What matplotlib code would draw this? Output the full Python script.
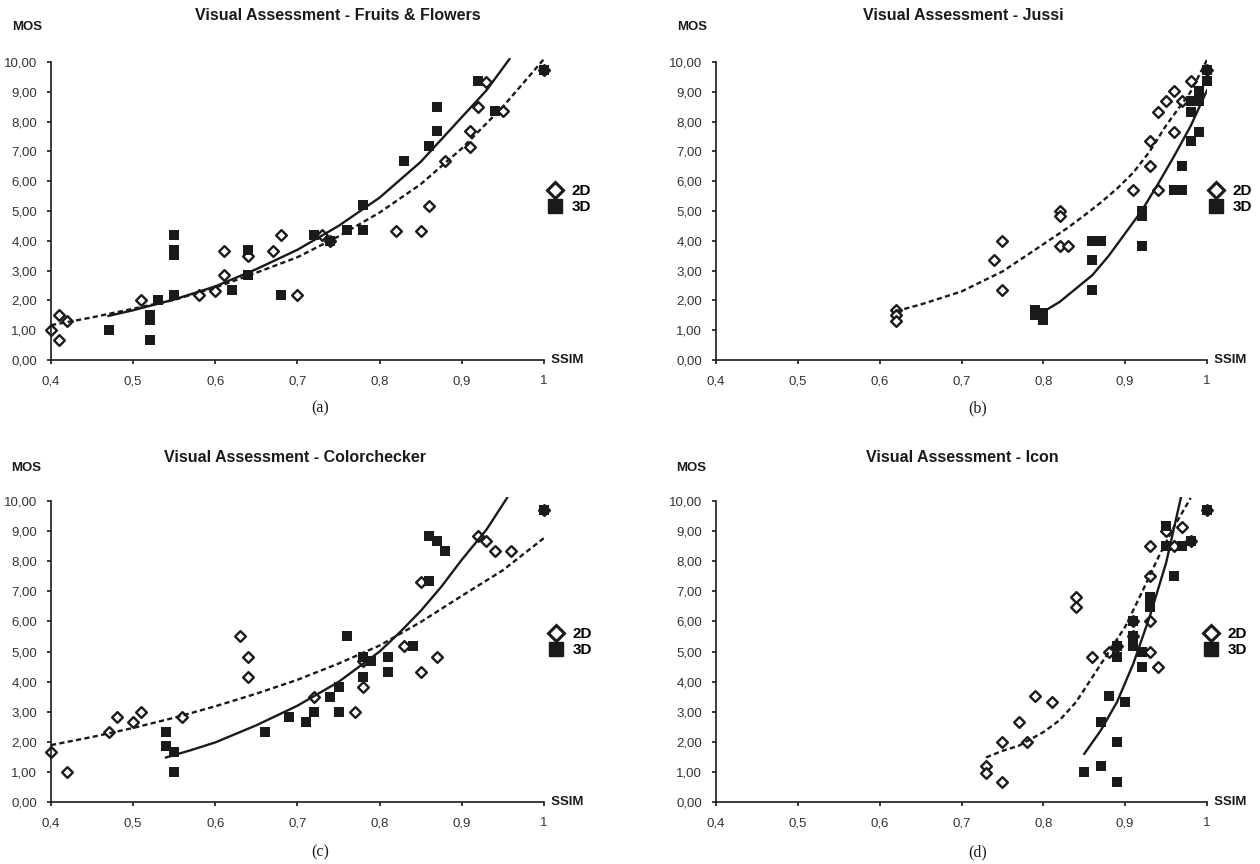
import numpy as np
import matplotlib
matplotlib.use('Agg')
from matplotlib import pyplot as plt
from matplotlib.lines import Line2D
from matplotlib.ticker import FuncFormatter

plt.rcParams['font.family'] = ['Liberation Sans', 'DejaVu Sans']

titles = ['Visual Assessment - Fruits & Flowers', 'Visual Assessment - Jussi',
          'Visual Assessment - Colorchecker', 'Visual Assessment - Icon']
sublabels = ['(a)', '(b)', '(c)', '(d)']
series_names = ['2D', '3D']
x_ticks = [0.4, 0.5, 0.6, 0.7, 0.8, 0.9, 1.0]
y_ticks = [0, 1, 2, 3, 4, 5, 6, 7, 8, 9, 10]

# (a) Fruits & Flowers
a_2d_x = [0.40, 0.41, 0.41, 0.42, 0.51, 0.58, 0.60, 0.61, 0.61, 0.64, 0.67, 0.68, 0.70,
          0.73, 0.74, 0.82, 0.85, 0.86, 0.88, 0.91, 0.91, 0.92, 0.93, 0.95, 1.00]
a_2d_y = [1.00, 1.52, 0.67, 1.32, 2.00, 2.18, 2.32, 3.66, 2.84, 3.50, 3.66, 4.18, 2.18,
          4.18, 4.00, 4.33, 4.33, 5.17, 6.67, 7.16, 7.67, 8.49, 9.33, 8.36, 9.72]
a_3d_x = [0.47, 0.52, 0.52, 0.52, 0.53, 0.55, 0.55, 0.55, 0.55, 0.62, 0.64, 0.64, 0.68,
          0.72, 0.74, 0.76, 0.78, 0.78, 0.83, 0.86, 0.87, 0.87, 0.92, 0.94, 1.00]
a_3d_y = [1.00, 1.52, 1.34, 0.67, 2.03, 4.19, 3.68, 3.52, 2.18, 2.34, 3.68, 2.86, 2.18,
          4.19, 4.00, 4.35, 5.19, 4.35, 6.69, 7.19, 8.49, 7.69, 9.36, 8.36, 9.72]
# trendlines
a_2d_tx = [0.40, 0.45, 0.50, 0.55, 0.60, 0.65, 0.70, 0.75, 0.80, 0.85, 0.90, 0.95, 1.00]
a_2d_ty = [1.17, 1.43, 1.72, 2.02, 2.43, 2.93, 3.45, 4.15, 4.95, 5.90, 7.10, 8.50, 10.10]
a_3d_tx = [0.47, 0.50, 0.55, 0.60, 0.65, 0.70, 0.75, 0.80, 0.85, 0.90, 0.93, 0.958]
a_3d_ty = [1.48, 1.67, 2.03, 2.47, 3.05, 3.70, 4.50, 5.45, 6.65, 8.15, 9.05, 10.10]

# (b) Jussi
b_2d_x = [0.62, 0.62, 0.62, 0.74, 0.75, 0.75, 0.82, 0.82, 0.82, 0.83, 0.91, 0.93, 0.93,
          0.94, 0.94, 0.95, 0.96, 0.96, 0.97, 0.98, 1.00]
b_2d_y = [1.67, 1.50, 1.30, 3.35, 4.00, 2.36, 5.00, 4.83, 3.84, 3.84, 5.69, 7.34, 6.50,
          8.33, 5.69, 8.70, 9.02, 7.66, 8.70, 9.35, 9.73]
b_3d_x = [0.79, 0.79, 0.80, 0.80, 0.86, 0.87, 0.86, 0.86, 0.92, 0.92, 0.92, 0.96, 0.97,
          0.97, 0.98, 0.98, 0.98, 0.99, 0.99, 0.99, 1.00, 1.00]
b_3d_y = [1.67, 1.50, 1.58, 1.34, 4.00, 4.00, 3.35, 2.36, 5.00, 4.83, 3.84, 5.69, 5.69,
          6.50, 7.34, 8.33, 8.70, 8.70, 9.02, 7.66, 9.35, 9.73]
b_2d_tx = [0.62, 0.65, 0.70, 0.75, 0.79, 0.83, 0.85, 0.87, 0.89, 0.91, 0.93, 0.95, 0.98, 1.00]
b_2d_ty = [1.64, 1.86, 2.30, 2.97, 3.70, 4.44, 4.85, 5.28, 5.75, 6.29, 7.00, 7.87, 9.00, 10.07]
b_3d_tx = [0.80, 0.82, 0.84, 0.86, 0.88, 0.90, 0.92, 0.94, 0.96, 0.98, 1.00]
b_3d_ty = [1.62, 1.95, 2.40, 2.85, 3.50, 4.25, 5.00, 5.90, 6.85, 7.85, 9.05]

# (c) Colorchecker
c_2d_x = [0.40, 0.42, 0.47, 0.48, 0.50, 0.51, 0.56, 0.63, 0.64, 0.64, 0.72, 0.77, 0.78,
          0.78, 0.83, 0.85, 0.85, 0.87, 0.92, 0.93, 0.94, 0.96, 1.00]
c_2d_y = [1.65, 0.99, 2.32, 2.84, 2.67, 3.00, 2.84, 5.51, 4.82, 4.15, 3.49, 3.00, 3.81,
          4.67, 5.18, 7.32, 4.32, 4.82, 8.84, 8.67, 8.33, 8.33, 9.70]
c_3d_x = [0.54, 0.54, 0.55, 0.55, 0.66, 0.69, 0.71, 0.72, 0.74, 0.75, 0.75, 0.76, 0.78,
          0.78, 0.79, 0.81, 0.81, 0.84, 0.86, 0.86, 0.87, 0.88, 1.00]
c_3d_y = [2.32, 1.86, 1.67, 0.99, 2.32, 2.84, 2.67, 3.00, 3.49, 3.81, 3.00, 5.51, 4.82,
          4.15, 4.68, 4.82, 4.32, 5.18, 8.84, 7.33, 8.67, 8.33, 9.70]
c_2d_tx = [0.40, 0.45, 0.50, 0.55, 0.60, 0.65, 0.70, 0.75, 0.80, 0.85, 0.90, 0.95, 1.00]
c_2d_ty = [1.89, 2.16, 2.46, 2.80, 3.18, 3.60, 4.06, 4.60, 5.20, 5.98, 6.85, 7.70, 8.77]
c_3d_tx = [0.54, 0.57, 0.60, 0.65, 0.70, 0.75, 0.80, 0.825, 0.85, 0.875, 0.90, 0.93, 0.955]
c_3d_ty = [1.48, 1.72, 1.98, 2.55, 3.20, 3.99, 5.00, 5.65, 6.35, 7.15, 8.05, 9.05, 10.10]

# (d) Icon
d_2d_x = [0.73, 0.73, 0.75, 0.75, 0.77, 0.78, 0.79, 0.81, 0.84, 0.84, 0.86, 0.88, 0.89,
          0.91, 0.91, 0.93, 0.93, 0.93, 0.93, 0.94, 0.95, 0.96, 0.97, 0.98, 1.00]
d_2d_y = [1.18, 0.98, 2.00, 0.67, 2.67, 2.00, 3.52, 3.32, 6.82, 6.47, 4.82, 4.99, 5.18,
          6.01, 5.50, 8.49, 7.50, 6.00, 4.99, 4.48, 9.00, 8.50, 9.15, 8.67, 9.69]
d_3d_x = [0.85, 0.87, 0.87, 0.88, 0.89, 0.89, 0.89, 0.89, 0.90, 0.91, 0.91, 0.91, 0.92,
          0.92, 0.93, 0.93, 0.95, 0.95, 0.96, 0.97, 0.98, 1.00]
d_3d_y = [0.99, 1.18, 2.67, 3.52, 2.00, 0.67, 5.18, 4.82, 3.32, 6.01, 5.50, 5.18, 4.99,
          4.50, 6.82, 6.47, 9.18, 8.50, 7.50, 8.50, 8.67, 9.69]
d_2d_tx = [0.73, 0.75, 0.77, 0.80, 0.82, 0.84, 0.86, 0.88, 0.90, 0.92, 0.94, 0.96, 0.98]
d_2d_ty = [1.48, 1.70, 1.87, 2.32, 2.72, 3.32, 4.15, 4.99, 5.82, 6.94, 8.10, 9.16, 10.10]
d_3d_tx = [0.85, 0.87, 0.89, 0.91, 0.93, 0.95, 0.968]
d_3d_ty = [1.60, 2.37, 3.32, 4.60, 6.16, 7.94, 10.10]

panels = [(a_2d_x, a_2d_y, a_3d_x, a_3d_y),
          (b_2d_x, b_2d_y, b_3d_x, b_3d_y),
          (c_2d_x, c_2d_y, c_3d_x, c_3d_y),
          (d_2d_x, d_2d_y, d_3d_x, d_3d_y)]
trends = [(a_2d_tx, a_2d_ty, a_3d_tx, a_3d_ty),
          (b_2d_tx, b_2d_ty, b_3d_tx, b_3d_ty),
          (c_2d_tx, c_2d_ty, c_3d_tx, c_3d_ty),
          (d_2d_tx, d_2d_ty, d_3d_tx, d_3d_ty)]

W, H = 1260, 864
INK = '#1a1a1a'
# pixel layout: x at 0.4, x at 1.0, y at 0, y at 10
boxes = [(51, 544, 360, 62), (716, 1207, 360, 62),
         (51, 544, 802, 501), (716, 1207, 802, 501)]
title_pos = [(338, 16), (963, 16), (295, 457), (962, 457)]
sub_pos = [(320, 408), (978, 408), (320, 852), (978, 852)]
mos_pos = [(12, 27), (677, 27), (11, 468), (676, 468)]
leg_pos = [(547, 184), (1208, 184), (548, 627), (1203, 627)]
YTOP = 10.12

fig = plt.figure(figsize=(W / 100, H / 100), dpi=100)
for i, (x2, y2, x3, y3) in enumerate(panels):
    x0, x1, y0, y10 = boxes[i]
    ax = fig.add_axes([x0 / W, (H - y0) / H, (x1 - x0) / W, (y0 - y10) * YTOP / 10 / H])
    ax.scatter(x2, y2, marker='D', s=30, facecolor='white', edgecolor=INK,
               linewidth=1.7, zorder=2, clip_on=False)
    ax.scatter(x3, y3, marker='s', s=50, color=INK, linewidth=0, zorder=3, clip_on=False)
    tx2, ty2, tx3, ty3 = trends[i]
    ax.plot(tx2, ty2, color=INK, lw=1.7, ls=(0, (2.2, 1.4)), zorder=4)
    ax.plot(tx3, ty3, color=INK, lw=1.7, ls='-', zorder=4, solid_joinstyle='round')

    ax.set_xlim(0.4, 1.0)
    ax.set_ylim(0, YTOP)
    ax.set_xticks(x_ticks)
    ax.set_yticks(y_ticks)
    ax.xaxis.set_major_formatter(FuncFormatter(lambda v, p: ('%g' % round(v, 1)).replace('.', ',')))
    ax.yaxis.set_major_formatter(FuncFormatter(lambda v, p: ('%.2f' % v).replace('.', ',')))
    for s in ['top', 'right']:
        ax.spines[s].set_visible(False)
    for s in ['left', 'bottom']:
        ax.spines[s].set_color(INK)
        ax.spines[s].set_linewidth(1.2)
    ax.spines['left'].set_bounds(0, 10)
    ax.tick_params(axis='both', direction='out', length=3, width=1.2, color=INK,
                   labelsize=9.5, labelcolor='#333333')
    ax.tick_params(axis='y', pad=7)
    ax.tick_params(axis='x', pad=8)
    ax.patch.set_alpha(0)

    ax.text(1.0, 0, '  SSIM', fontsize=9.5, fontweight='bold', color=INK,
            ha='left', va='center')

    handles = [Line2D([], [], marker='D', ls='none', mfc='white', mec=INK, ms=8, mew=2.2),
               Line2D([], [], marker='s', ls='none', color=INK, ms=10)]
    lx, ly = leg_pos[i]
    ax.legend(handles, series_names, loc='upper left', bbox_to_anchor=(lx / W, 1 - ly / H),
              bbox_transform=fig.transFigure, frameon=False, handlelength=1.0,
              handletextpad=0.6, labelspacing=0.15, borderpad=0, borderaxespad=0,
              prop={'size': 11, 'weight': 'bold'})

    tx, ty = title_pos[i]
    fig.text(tx / W, 1 - ty / H, titles[i], fontsize=11.5, fontweight='bold', color=INK,
             ha='center', va='center')
    mx, my = mos_pos[i]
    fig.text(mx / W, 1 - my / H, 'MOS', fontsize=9.5, fontweight='bold', color=INK,
             ha='left', va='center')
    sx, sy = sub_pos[i]
    fig.text(sx / W, 1 - sy / H, sublabels[i], fontsize=11.5, family='Liberation Serif',
             color=INK, ha='center', va='center')

fig.savefig('out.png', dpi=100)
